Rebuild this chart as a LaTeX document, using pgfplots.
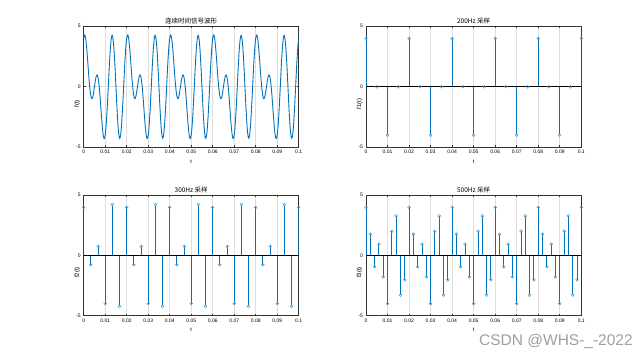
\documentclass[border=0pt]{standalone}
\usepackage{pgfplots}
\pgfplotsset{compat=1.18}
\usepackage{fontspec}
\setmainfont{Liberation Sans}
\newfontfamily\cjk{Noto Sans CJK SC}
\definecolor{mblue}{RGB}{0,114,189}
\pgfplotsset{
  mystyle/.style={
    scale only axis, anchor=south west,
    xmin=0, xmax=0.1, ymin=-5, ymax=5,
    xtick={0,0.01,0.02,0.03,0.04,0.05,0.06,0.07,0.08,0.09,0.1},
    xticklabels={0,0.01,0.02,0.03,0.04,0.05,0.06,0.07,0.08,0.09,0.1},
    ytick={-5,0,5}, yticklabels={-5,0,5},
    scaled x ticks=false, scaled y ticks=false,
    grid=major, major grid style={black!13, line width=0.7pt},
    axis line style={black!80, line width=1pt},
    tick style={black!80, line width=0.6pt}, major tick length=2pt,
    tick align=inside,
    ticklabel style={font=\fontsize{5}{6}\selectfont},
    xticklabel style={yshift=0.5pt},
    yticklabel style={xshift=0.5pt},
    xlabel=t,
    xlabel style={font=\fontsize{5.5}{6}\selectfont, at={(0.5,0)}, anchor=north, yshift=-9pt},
    ylabel style={font=\fontsize{6}{7}\selectfont, at={(0,0.5)}, anchor=south, xshift=-17pt},
    title style={font=\cjk\fontsize{6.5}{7}\selectfont, at={(0.5,1)}, anchor=base, yshift=-3.5pt, inner sep=0pt},
  },
  stem/.style={ycomb, color=mblue, line width=0.9pt, mark=o, mark size=1.4pt,
    mark options={line width=0.5pt, draw=mblue!70, fill=mblue!20}},
}
\begin{document}
\begin{tikzpicture}
\path[use as bounding box] (0pt,0pt) rectangle (643pt,356pt);
% top-left: continuous
\begin{axis}[mystyle, at={(83.7pt,208.7pt)}, width=215pt, height=121pt,
  title={连续时间信号波形}, ylabel={f(t)}]
\addplot[mblue, line width=0.9pt] coordinates {
(0,4.000) (0.00025,4.227) (0.0005,4.279) (0.00075,4.162) (0.001,3.890) (0.00125,3.486) (0.0015,2.978) (0.00175,2.399) (0.002,1.784) (0.00225,1.168) (0.0025,0.586) (0.00275,0.067) (0.003,-0.363) (0.00325,-0.686) (0.0035,-0.891) (0.00375,-0.975) (0.004,-0.942) (0.00425,-0.807) (0.0045,-0.588) (0.00475,-0.309) (0.005,0) (0.00525,0.309) (0.0055,0.588) (0.00575,0.807) (0.006,0.942) (0.00625,0.975) (0.0065,0.891) (0.00675,0.686) (0.007,0.363) (0.00725,-0.067) (0.0075,-0.586) (0.00775,-1.168) (0.008,-1.784) (0.00825,-2.399) (0.0085,-2.978) (0.00875,-3.486) (0.009,-3.890) (0.00925,-4.162) (0.0095,-4.279) (0.00975,-4.227) (0.01,-4.000) (0.01025,-3.601) (0.0105,-3.043) (0.01075,-2.346) (0.011,-1.539) (0.01125,-0.658) (0.0115,0.258) (0.01175,1.165) (0.012,2.020) (0.01225,2.782) (0.0125,3.414) (0.01275,3.884) (0.013,4.168) (0.01325,4.250) (0.0135,4.127) (0.01375,3.803) (0.014,3.294) (0.01425,2.623) (0.0145,1.824) (0.01475,0.935) (0.015,0) (0.01525,-0.935) (0.0155,-1.824) (0.01575,-2.623) (0.016,-3.294) (0.01625,-3.803) (0.0165,-4.127) (0.01675,-4.250) (0.017,-4.168) (0.01725,-3.884) (0.0175,-3.414) (0.01775,-2.782) (0.018,-2.020) (0.01825,-1.165) (0.0185,-0.258) (0.01875,0.658) (0.019,1.539) (0.01925,2.346) (0.0195,3.043) (0.01975,3.601)
(0.02,4.000) (0.02025,4.227) (0.0205,4.279) (0.02075,4.162) (0.021,3.890) (0.02125,3.486) (0.0215,2.978) (0.02175,2.399) (0.022,1.784) (0.02225,1.168) (0.0225,0.586) (0.02275,0.067) (0.023,-0.363) (0.02325,-0.686) (0.0235,-0.891) (0.02375,-0.975) (0.024,-0.942) (0.02425,-0.807) (0.0245,-0.588) (0.02475,-0.309) (0.025,0) (0.02525,0.309) (0.0255,0.588) (0.02575,0.807) (0.026,0.942) (0.02625,0.975) (0.0265,0.891) (0.02675,0.686) (0.027,0.363) (0.02725,-0.067) (0.0275,-0.586) (0.02775,-1.168) (0.028,-1.784) (0.02825,-2.399) (0.0285,-2.978) (0.02875,-3.486) (0.029,-3.890) (0.02925,-4.162) (0.0295,-4.279) (0.02975,-4.227) (0.03,-4.000) (0.03025,-3.601) (0.0305,-3.043) (0.03075,-2.346) (0.031,-1.539) (0.03125,-0.658) (0.0315,0.258) (0.03175,1.165) (0.032,2.020) (0.03225,2.782) (0.0325,3.414) (0.03275,3.884) (0.033,4.168) (0.03325,4.250) (0.0335,4.127) (0.03375,3.803) (0.034,3.294) (0.03425,2.623) (0.0345,1.824) (0.03475,0.935) (0.035,0) (0.03525,-0.935) (0.0355,-1.824) (0.03575,-2.623) (0.036,-3.294) (0.03625,-3.803) (0.0365,-4.127) (0.03675,-4.250) (0.037,-4.168) (0.03725,-3.884) (0.0375,-3.414) (0.03775,-2.782) (0.038,-2.020) (0.03825,-1.165) (0.0385,-0.258) (0.03875,0.658) (0.039,1.539) (0.03925,2.346) (0.0395,3.043) (0.03975,3.601)
(0.04,4.000) (0.04025,4.227) (0.0405,4.279) (0.04075,4.162) (0.041,3.890) (0.04125,3.486) (0.0415,2.978) (0.04175,2.399) (0.042,1.784) (0.04225,1.168) (0.0425,0.586) (0.04275,0.067) (0.043,-0.363) (0.04325,-0.686) (0.0435,-0.891) (0.04375,-0.975) (0.044,-0.942) (0.04425,-0.807) (0.0445,-0.588) (0.04475,-0.309) (0.045,0) (0.04525,0.309) (0.0455,0.588) (0.04575,0.807) (0.046,0.942) (0.04625,0.975) (0.0465,0.891) (0.04675,0.686) (0.047,0.363) (0.04725,-0.067) (0.0475,-0.586) (0.04775,-1.168) (0.048,-1.784) (0.04825,-2.399) (0.0485,-2.978) (0.04875,-3.486) (0.049,-3.890) (0.04925,-4.162) (0.0495,-4.279) (0.04975,-4.227) (0.05,-4.000) (0.05025,-3.601) (0.0505,-3.043) (0.05075,-2.346) (0.051,-1.539) (0.05125,-0.658) (0.0515,0.258) (0.05175,1.165) (0.052,2.020) (0.05225,2.782) (0.0525,3.414) (0.05275,3.884) (0.053,4.168) (0.05325,4.250) (0.0535,4.127) (0.05375,3.803) (0.054,3.294) (0.05425,2.623) (0.0545,1.824) (0.05475,0.935) (0.055,0) (0.05525,-0.935) (0.0555,-1.824) (0.05575,-2.623) (0.056,-3.294) (0.05625,-3.803) (0.0565,-4.127) (0.05675,-4.250) (0.057,-4.168) (0.05725,-3.884) (0.0575,-3.414) (0.05775,-2.782) (0.058,-2.020) (0.05825,-1.165) (0.0585,-0.258) (0.05875,0.658) (0.059,1.539) (0.05925,2.346) (0.0595,3.043) (0.05975,3.601)
(0.06,4.000) (0.06025,4.227) (0.0605,4.279) (0.06075,4.162) (0.061,3.890) (0.06125,3.486) (0.0615,2.978) (0.06175,2.399) (0.062,1.784) (0.06225,1.168) (0.0625,0.586) (0.06275,0.067) (0.063,-0.363) (0.06325,-0.686) (0.0635,-0.891) (0.06375,-0.975) (0.064,-0.942) (0.06425,-0.807) (0.0645,-0.588) (0.06475,-0.309) (0.065,0) (0.06525,0.309) (0.0655,0.588) (0.06575,0.807) (0.066,0.942) (0.06625,0.975) (0.0665,0.891) (0.06675,0.686) (0.067,0.363) (0.06725,-0.067) (0.0675,-0.586) (0.06775,-1.168) (0.068,-1.784) (0.06825,-2.399) (0.0685,-2.978) (0.06875,-3.486) (0.069,-3.890) (0.06925,-4.162) (0.0695,-4.279) (0.06975,-4.227) (0.07,-4.000) (0.07025,-3.601) (0.0705,-3.043) (0.07075,-2.346) (0.071,-1.539) (0.07125,-0.658) (0.0715,0.258) (0.07175,1.165) (0.072,2.020) (0.07225,2.782) (0.0725,3.414) (0.07275,3.884) (0.073,4.168) (0.07325,4.250) (0.0735,4.127) (0.07375,3.803) (0.074,3.294) (0.07425,2.623) (0.0745,1.824) (0.07475,0.935) (0.075,0) (0.07525,-0.935) (0.0755,-1.824) (0.07575,-2.623) (0.076,-3.294) (0.07625,-3.803) (0.0765,-4.127) (0.07675,-4.250) (0.077,-4.168) (0.07725,-3.884) (0.0775,-3.414) (0.07775,-2.782) (0.078,-2.020) (0.07825,-1.165) (0.0785,-0.258) (0.07875,0.658) (0.079,1.539) (0.07925,2.346) (0.0795,3.043) (0.07975,3.601)
(0.08,4.000) (0.08025,4.227) (0.0805,4.279) (0.08075,4.162) (0.081,3.890) (0.08125,3.486) (0.0815,2.978) (0.08175,2.399) (0.082,1.784) (0.08225,1.168) (0.0825,0.586) (0.08275,0.067) (0.083,-0.363) (0.08325,-0.686) (0.0835,-0.891) (0.08375,-0.975) (0.084,-0.942) (0.08425,-0.807) (0.0845,-0.588) (0.08475,-0.309) (0.085,0) (0.08525,0.309) (0.0855,0.588) (0.08575,0.807) (0.086,0.942) (0.08625,0.975) (0.0865,0.891) (0.08675,0.686) (0.087,0.363) (0.08725,-0.067) (0.0875,-0.586) (0.08775,-1.168) (0.088,-1.784) (0.08825,-2.399) (0.0885,-2.978) (0.08875,-3.486) (0.089,-3.890) (0.08925,-4.162) (0.0895,-4.279) (0.08975,-4.227) (0.09,-4.000) (0.09025,-3.601) (0.0905,-3.043) (0.09075,-2.346) (0.091,-1.539) (0.09125,-0.658) (0.0915,0.258) (0.09175,1.165) (0.092,2.020) (0.09225,2.782) (0.0925,3.414) (0.09275,3.884) (0.093,4.168) (0.09325,4.250) (0.0935,4.127) (0.09375,3.803) (0.094,3.294) (0.09425,2.623) (0.0945,1.824) (0.09475,0.935) (0.095,0) (0.09525,-0.935) (0.0955,-1.824) (0.09575,-2.623) (0.096,-3.294) (0.09625,-3.803) (0.0965,-4.127) (0.09675,-4.250) (0.097,-4.168) (0.09725,-3.884) (0.0975,-3.414) (0.09775,-2.782) (0.098,-2.020) (0.09825,-1.165) (0.0985,-0.258) (0.09875,0.658) (0.099,1.539) (0.09925,2.346) (0.0995,3.043) (0.09975,3.601)
(0.1,4.000)
};
\end{axis}
% top-right: 200 Hz
\begin{axis}[mystyle, at={(366pt,208.7pt)}, width=215.3pt, height=121pt,
  title={200Hz 采样}, ylabel={f1(t)}]
\addplot[stem] coordinates {
(0,4) (0.005,0) (0.01,-4) (0.015,0) (0.02,4) (0.025,0) (0.03,-4) (0.035,0) (0.04,4) (0.045,0) (0.05,-4) (0.055,0) (0.06,4) (0.065,0) (0.07,-4) (0.075,0) (0.08,4) (0.085,0) (0.09,-4) (0.095,0) (0.1,4)
};
\addplot[black, line width=0.8pt] coordinates {(0,0) (0.1,0)};
\end{axis}
% bottom-left: 300 Hz
\begin{axis}[mystyle, at={(83.7pt,40.3pt)}, width=215pt, height=120.4pt,
  title={300Hz 采样}, ylabel={f2(t)}]
\addplot[stem] coordinates {
(0,4) (0.003333,-0.768) (0.006667,0.768) (0.01,-4) (0.013333,4.232) (0.016667,-4.232)
(0.02,4) (0.023333,-0.768) (0.026667,0.768) (0.03,-4) (0.033333,4.232) (0.036667,-4.232)
(0.04,4) (0.043333,-0.768) (0.046667,0.768) (0.05,-4) (0.053333,4.232) (0.056667,-4.232)
(0.06,4) (0.063333,-0.768) (0.066667,0.768) (0.07,-4) (0.073333,4.232) (0.076667,-4.232)
(0.08,4) (0.083333,-0.768) (0.086667,0.768) (0.09,-4) (0.093333,4.232) (0.096667,-4.232)
(0.1,4)
};
\addplot[black, line width=0.8pt] coordinates {(0,0) (0.1,0)};
\end{axis}
% bottom-right: 500 Hz
\begin{axis}[mystyle, at={(366pt,40.3pt)}, width=215.3pt, height=120.4pt,
  title={500Hz 采样}, ylabel={f3(t)}]
\addplot[stem] coordinates {
(0,4) (0.002,1.784) (0.004,-0.942) (0.006,0.942) (0.008,-1.784) (0.01,-4) (0.012,2.020) (0.014,3.294) (0.016,-3.294) (0.018,-2.020)
(0.02,4) (0.022,1.784) (0.024,-0.942) (0.026,0.942) (0.028,-1.784) (0.03,-4) (0.032,2.020) (0.034,3.294) (0.036,-3.294) (0.038,-2.020)
(0.04,4) (0.042,1.784) (0.044,-0.942) (0.046,0.942) (0.048,-1.784) (0.05,-4) (0.052,2.020) (0.054,3.294) (0.056,-3.294) (0.058,-2.020)
(0.06,4) (0.062,1.784) (0.064,-0.942) (0.066,0.942) (0.068,-1.784) (0.07,-4) (0.072,2.020) (0.074,3.294) (0.076,-3.294) (0.078,-2.020)
(0.08,4) (0.082,1.784) (0.084,-0.942) (0.086,0.942) (0.088,-1.784) (0.09,-4) (0.092,2.020) (0.094,3.294) (0.096,-3.294) (0.098,-2.020)
(0.1,4)
};
\addplot[black, line width=0.8pt] coordinates {(0,0) (0.1,0)};
\end{axis}
\node[anchor=base west, text=black!38, font=\fontsize{15.5}{16}\selectfont, inner sep=0pt] at (479pt,10pt) {CSDN @WHS-\_-2022};
\end{tikzpicture}
\end{document}
